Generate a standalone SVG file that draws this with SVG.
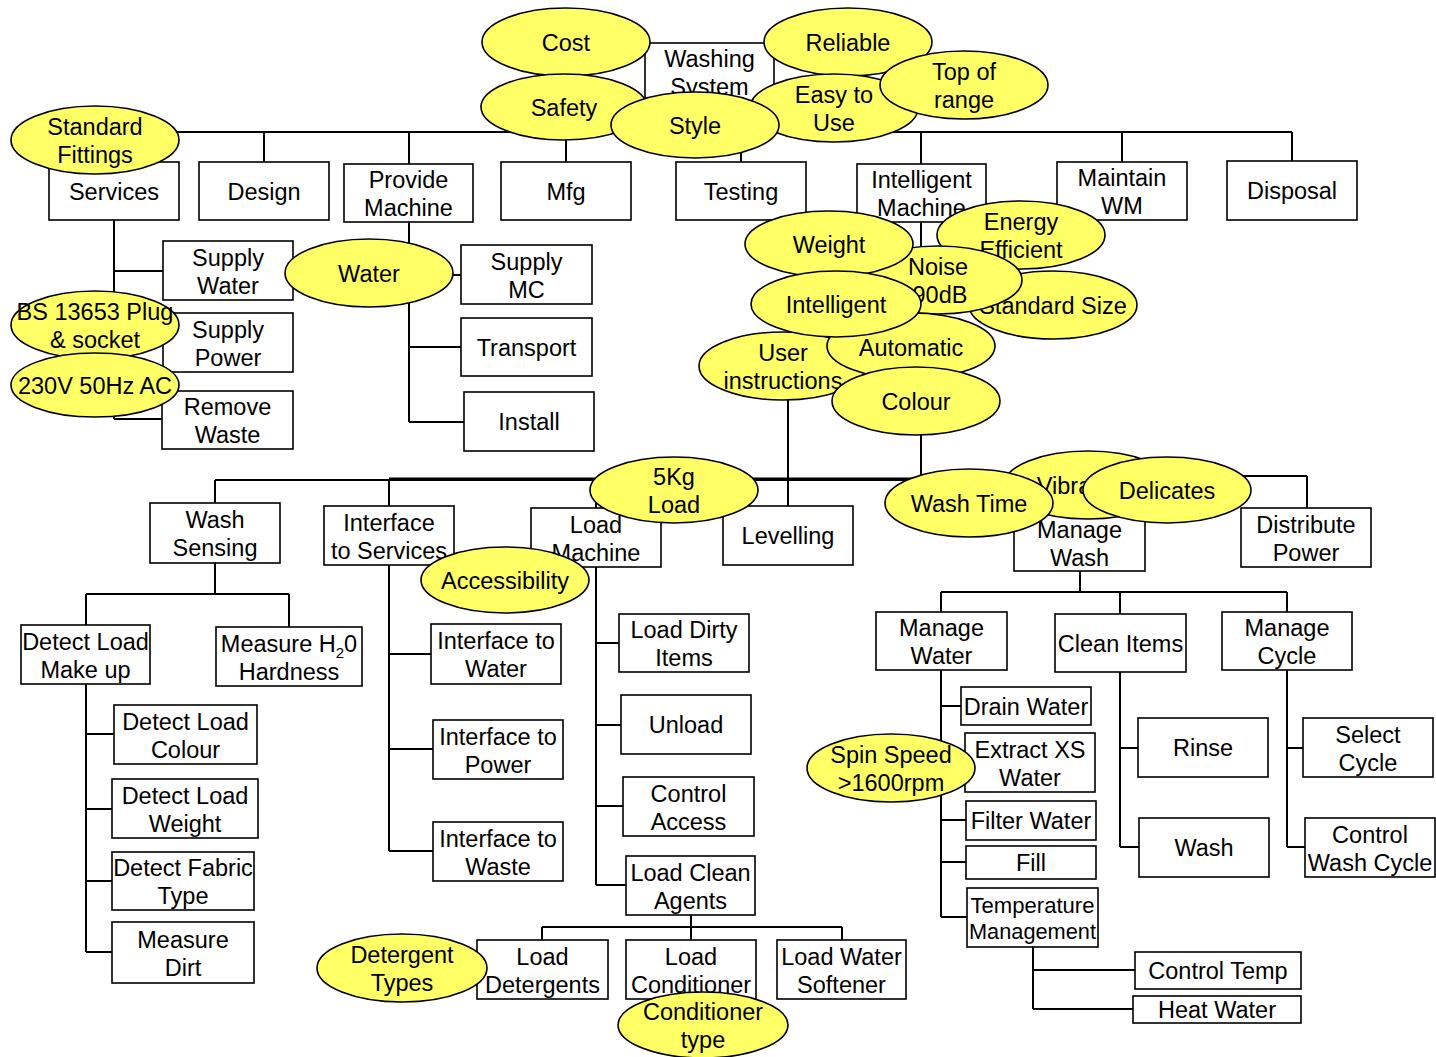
<svg xmlns="http://www.w3.org/2000/svg" width="1436" height="1057" viewBox="0 0 1436 1057">
<style>
.b{fill:#fff;stroke:#000;stroke-width:1.6}
.e{fill:#FFFF66;stroke:#000;stroke-width:1.6}
.c{stroke:#000;stroke-width:2;fill:none}
text{font-family:"Liberation Sans",Arial,sans-serif;font-size:23.5px;text-anchor:middle;fill:#000}
.s{font-size:22.5px}
</style>
<rect width="1436" height="1057" fill="#fff"/>
<g id="connectors" class="c">
<path d="M710 101V132M114 132H1292M114 132V162M264 132V162M409 132V164M566 132V162M741 132V162M921 132V164M1122 132V162M1292 132V161"/>
<path d="M114 220V419M114 271H163M114 342H163M114 419H162"/>
<path d="M409 222V422M409 275H461M409 347H461M409 422H464"/>
<path d="M921 222V480M788 370V506"/>
<path d="M215 480H1080M389 478.5H922M1080 476H1307M215 480V503M389 480V506M596 480V508M1080 476V512M1307 476V508"/>
<path d="M215 563V594M86 594H289M86 594V625M289 594V627"/>
<path d="M86 684V952M86 734H114M86 809H112M86 881H112M86 952H112"/>
<path d="M389 565V851M389 654H431M389 749H433M389 851H433"/>
<path d="M596 567V885M596 643H619M596 725H621M596 806H623M596 885H626"/>
<path d="M691 915V927M542 927H842M542 927V940M691 927V940M842 927V940"/>
<path d="M1080 571V592M941 592H1287M941 592V612M1120 592V614M1287 592V612"/>
<path d="M941 670V917M941 706H961M941 762H965M941 820H966M941 862H966M941 917H967"/>
<path d="M1033 947V1009M1033 970H1135M1033 1009H1133"/>
<path d="M1120 672V847M1120 748H1138M1120 847H1139"/>
<path d="M1287 670V847M1287 748H1303M1287 847H1305"/>
</g>
<g id="washing-system"><rect class="b" x="645" y="43" width="129" height="58"/><text x="709.5" y="67">Washing</text><text x="709.5" y="95">System</text></g>
<g id="services"><rect class="b" x="49" y="162" width="130" height="58"/><text x="114" y="199.5">Services</text></g>
<g id="design"><rect class="b" x="199" y="162" width="130" height="58"/><text x="264" y="199.5">Design</text></g>
<g id="provide-machine"><rect class="b" x="344" y="164" width="129" height="58"/><text x="408.5" y="188">Provide</text><text x="408.5" y="216">Machine</text></g>
<g id="mfg"><rect class="b" x="501" y="162" width="130" height="58"/><text x="566" y="199.5">Mfg</text></g>
<g id="testing"><rect class="b" x="676" y="162" width="130" height="58"/><text x="741" y="199.5">Testing</text></g>
<g id="intelligent-machine"><rect class="b" x="857" y="164" width="129" height="58"/><text x="921.5" y="188">Intelligent</text><text x="921.5" y="216">Machine</text></g>
<g id="maintain-wm"><rect class="b" x="1057" y="162" width="130" height="58"/><text x="1122" y="186">Maintain</text><text x="1122" y="214">WM</text></g>
<g id="disposal"><rect class="b" x="1227" y="161" width="130" height="59"/><text x="1292" y="199">Disposal</text></g>
<g id="supply-water"><rect class="b" x="163" y="241" width="130" height="59"/><text x="228" y="265.5">Supply</text><text x="228" y="293.5">Water</text></g>
<g id="supply-power"><rect class="b" x="163" y="313" width="130" height="59"/><text x="228" y="337.5">Supply</text><text x="228" y="365.5">Power</text></g>
<g id="remove-waste"><rect class="b" x="162" y="391" width="131" height="58"/><text x="227.5" y="415">Remove</text><text x="227.5" y="443">Waste</text></g>
<g id="supply-mc"><rect class="b" x="461" y="245" width="131" height="59"/><text x="526.5" y="269.5">Supply</text><text x="526.5" y="297.5">MC</text></g>
<g id="transport"><rect class="b" x="461" y="318" width="131" height="58"/><text x="526.5" y="355.5">Transport</text></g>
<g id="install"><rect class="b" x="464" y="392" width="130" height="59"/><text x="529" y="430">Install</text></g>
<g id="wash-sensing"><rect class="b" x="150" y="503" width="130" height="60"/><text x="215" y="528">Wash</text><text x="215" y="556">Sensing</text></g>
<g id="interface-services"><rect class="b" x="324" y="506" width="130" height="59"/><text x="389" y="530.5">Interface</text><text x="389" y="558.5">to Services</text></g>
<g id="load-machine"><rect class="b" x="531" y="508" width="130" height="59"/><text x="596" y="532.5">Load</text><text x="596" y="560.5">Machine</text></g>
<g id="levelling"><rect class="b" x="723" y="506" width="130" height="59"/><text x="788" y="544">Levelling</text></g>
<g id="manage-wash"><rect class="b" x="1014" y="512" width="131" height="59"/><text x="1079.5" y="537.5">Manage</text><text x="1079.5" y="565.5">Wash</text></g>
<g id="distribute-power"><rect class="b" x="1241" y="508" width="130" height="59"/><text x="1306" y="532.5">Distribute</text><text x="1306" y="560.5">Power</text></g>
<g id="detect-load-makeup"><rect class="b" x="21" y="625" width="129" height="59"/><text x="85.5" y="649.5">Detect Load</text><text x="85.5" y="677.5">Make up</text></g>
<g id="measure-h2o"><rect class="b" x="216" y="627" width="146" height="59"/><text x="289" y="651.5">Measure H<tspan font-size="15" dy="6">2</tspan><tspan dy="-6">0</tspan></text><text x="289" y="679.5">Hardness</text></g>
<g id="detect-load-colour"><rect class="b" x="114" y="705" width="143" height="59"/><text x="185.5" y="729.5">Detect Load</text><text x="185.5" y="757.5">Colour</text></g>
<g id="detect-load-weight"><rect class="b" x="112" y="779" width="146" height="59"/><text x="185" y="803.5">Detect Load</text><text x="185" y="831.5">Weight</text></g>
<g id="detect-fabric-type"><rect class="b" x="112" y="852" width="142" height="58"/><text x="183" y="876">Detect Fabric</text><text x="183" y="904">Type</text></g>
<g id="measure-dirt"><rect class="b" x="112" y="922" width="142" height="61"/><text x="183" y="947.5">Measure</text><text x="183" y="975.5">Dirt</text></g>
<g id="interface-water"><rect class="b" x="431" y="624" width="130" height="60"/><text x="496" y="649">Interface to</text><text x="496" y="677">Water</text></g>
<g id="interface-power"><rect class="b" x="433" y="720" width="130" height="59"/><text x="498" y="744.5">Interface to</text><text x="498" y="772.5">Power</text></g>
<g id="interface-waste"><rect class="b" x="433" y="822" width="130" height="59"/><text x="498" y="846.5">Interface to</text><text x="498" y="874.5">Waste</text></g>
<g id="load-dirty-items"><rect class="b" x="619" y="614" width="130" height="58"/><text x="684" y="638">Load Dirty</text><text x="684" y="666">Items</text></g>
<g id="unload"><rect class="b" x="621" y="695" width="130" height="59"/><text x="686" y="733">Unload</text></g>
<g id="control-access"><rect class="b" x="623" y="777" width="131" height="59"/><text x="688.5" y="801.5">Control</text><text x="688.5" y="829.5">Access</text></g>
<g id="load-clean-agents"><rect class="b" x="626" y="856" width="129" height="59"/><text x="690.5" y="880.5">Load Clean</text><text x="690.5" y="908.5">Agents</text></g>
<g id="load-detergents"><rect class="b" x="477" y="940" width="131" height="59"/><text x="542.5" y="964.5">Load</text><text x="542.5" y="992.5">Detergents</text></g>
<g id="load-conditioner"><rect class="b" x="626" y="940" width="130" height="59"/><text x="691" y="964.5">Load</text><text x="691" y="992.5">Conditioner</text></g>
<g id="load-water-softener"><rect class="b" x="777" y="940" width="129" height="59"/><text x="841.5" y="964.5">Load Water</text><text x="841.5" y="992.5">Softener</text></g>
<g id="manage-water"><rect class="b" x="876" y="612" width="131" height="58"/><text x="941.5" y="636">Manage</text><text x="941.5" y="664">Water</text></g>
<g id="clean-items"><rect class="b" x="1055" y="614" width="131" height="58"/><text x="1120.5" y="651.5">Clean Items</text></g>
<g id="manage-cycle"><rect class="b" x="1222" y="612" width="130" height="58"/><text x="1287" y="636">Manage</text><text x="1287" y="664">Cycle</text></g>
<g id="drain-water"><rect class="b" x="961" y="687" width="130" height="38"/><text x="1026" y="714.5">Drain Water</text></g>
<g id="extract-xs-water"><rect class="b" x="965" y="733" width="130" height="59"/><text x="1030" y="757.5">Extract XS</text><text x="1030" y="785.5">Water</text></g>
<g id="filter-water"><rect class="b" x="966" y="801" width="130" height="39"/><text x="1031" y="829">Filter Water</text></g>
<g id="fill"><rect class="b" x="966" y="846" width="130" height="33"/><text x="1031" y="871">Fill</text></g>
<g id="temperature-management"><rect class="b" x="967" y="888" width="131" height="59"/><text class="s" x="1032.5" y="913" textLength="124" lengthAdjust="spacingAndGlyphs">Temperature</text><text class="s" x="1032.5" y="939" textLength="127" lengthAdjust="spacingAndGlyphs">Management</text></g>
<g id="control-temp"><rect class="b" x="1135" y="952" width="166" height="37"/><text x="1218" y="979">Control Temp</text></g>
<g id="heat-water"><rect class="b" x="1133" y="996" width="168" height="27"/><text x="1217" y="1018">Heat Water</text></g>
<g id="rinse"><rect class="b" x="1138" y="718" width="130" height="59"/><text x="1203" y="756">Rinse</text></g>
<g id="wash"><rect class="b" x="1139" y="818" width="130" height="59"/><text x="1204" y="856">Wash</text></g>
<g id="select-cycle"><rect class="b" x="1303" y="718" width="130" height="59"/><text x="1368" y="742.5">Select</text><text x="1368" y="770.5">Cycle</text></g>
<g id="control-wash-cycle"><rect class="b" x="1305" y="818" width="130" height="59"/><text x="1370" y="842.5">Control</text><text x="1370" y="870.5">Wash Cycle</text></g>
<g id="cost"><ellipse class="e" cx="566" cy="42" rx="84" ry="34"/><text x="566" y="50.5">Cost</text></g>
<g id="reliable"><ellipse class="e" cx="848" cy="42" rx="84" ry="34"/><text x="848" y="50.5">Reliable</text></g>
<g id="safety"><ellipse class="e" cx="564" cy="107" rx="83" ry="33"/><text x="564" y="115.5">Safety</text></g>
<g id="easy-to-use"><ellipse class="e" cx="834" cy="108" rx="84" ry="34"/><text x="834" y="103">Easy to</text><text x="834" y="131">Use</text></g>
<g id="top-of-range"><ellipse class="e" cx="964" cy="85" rx="84" ry="34"/><text x="964" y="80">Top of</text><text x="964" y="108">range</text></g>
<g id="style"><ellipse class="e" cx="695" cy="125" rx="84" ry="33"/><text x="695" y="133.5">Style</text></g>
<g id="standard-fittings"><ellipse class="e" cx="95" cy="140" rx="84" ry="34"/><text x="95" y="135">Standard</text><text x="95" y="163">Fittings</text></g>
<g id="water"><ellipse class="e" cx="369" cy="273" rx="84" ry="34"/><text x="369" y="281.5">Water</text></g>
<g id="bs-plug"><ellipse class="e" cx="95" cy="325" rx="84" ry="34"/><text x="95" y="320">BS 13653 Plug</text><text x="95" y="348">&amp; socket</text></g>
<g id="supply-230v"><ellipse class="e" cx="95" cy="385" rx="84" ry="32"/><text x="95" y="393.5">230V 50Hz AC</text></g>
<g id="energy-efficient"><ellipse class="e" cx="1021" cy="235" rx="84" ry="34"/><text x="1021" y="230">Energy</text><text x="1021" y="258">Efficient</text></g>
<g id="standard-size"><ellipse class="e" cx="1053" cy="305" rx="84" ry="34"/><text x="1053" y="313.5">Standard Size</text></g>
<g id="noise"><ellipse class="e" cx="938" cy="280" rx="84" ry="34"/><text x="938" y="275">Noise</text><text x="940" y="303">90dB</text></g>
<g id="weight"><ellipse class="e" cx="829" cy="244" rx="84" ry="33"/><text x="829" y="252.5">Weight</text></g>
<g id="user-instructions"><ellipse class="e" cx="783" cy="366" rx="84" ry="34"/><text x="783" y="361">User</text><text x="783" y="389">instructions</text></g>
<g id="automatic"><ellipse class="e" cx="911" cy="346" rx="84" ry="33"/><text x="911" y="356">Automatic</text></g>
<g id="intelligent"><ellipse class="e" cx="836" cy="304" rx="85" ry="33"/><text x="836" y="312.5">Intelligent</text></g>
<g id="colour"><ellipse class="e" cx="916" cy="401" rx="84" ry="34"/><text x="916" y="409.5">Colour</text></g>
<g id="load-5kg"><ellipse class="e" cx="674" cy="490" rx="84" ry="33"/><text x="674" y="485">5Kg</text><text x="674" y="513">Load</text></g>
<g id="accessibility"><ellipse class="e" cx="505" cy="580" rx="84" ry="33"/><text x="505" y="588.5">Accessibility</text></g>
<g id="vibration"><ellipse class="e" cx="1088" cy="485" rx="84" ry="34"/><text x="1083" y="493.5">Vibration</text></g>
<g id="wash-time"><ellipse class="e" cx="969" cy="503" rx="84" ry="34"/><text x="969" y="511.5">Wash Time</text></g>
<g id="delicates"><ellipse class="e" cx="1167" cy="490" rx="84" ry="33"/><text x="1167" y="498.5">Delicates</text></g>
<g id="spin-speed"><ellipse class="e" cx="891" cy="768" rx="84" ry="34"/><text x="891" y="763">Spin Speed</text><text x="891" y="791">&gt;1600rpm</text></g>
<g id="detergent-types"><ellipse class="e" cx="402" cy="968" rx="85" ry="34"/><text x="402" y="963">Detergent</text><text x="402" y="991">Types</text></g>
<g id="conditioner-type"><ellipse class="e" cx="703" cy="1025" rx="85" ry="33"/><text x="703" y="1020">Conditioner</text><text x="703" y="1048">type</text></g>
</svg>
